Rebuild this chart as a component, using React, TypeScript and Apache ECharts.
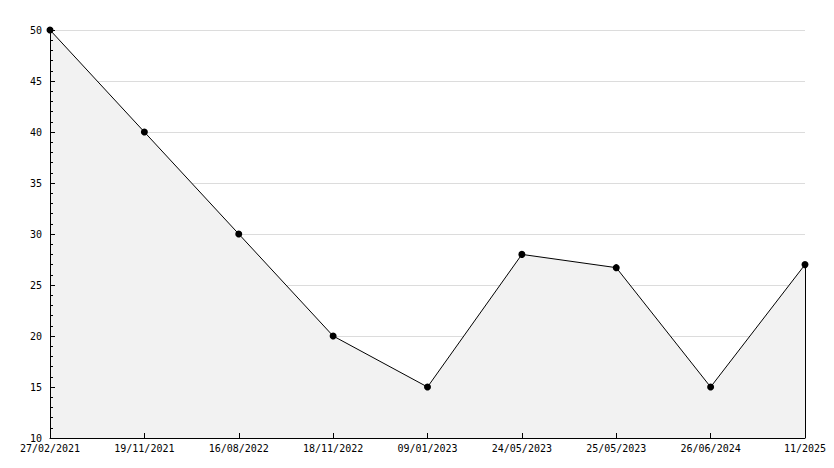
import React, { useEffect, useRef } from "react";
import * as echarts from "echarts";

const categories = [
  "27/02/2021",
  "19/11/2021",
  "16/08/2022",
  "18/11/2022",
  "09/01/2023",
  "24/05/2023",
  "25/05/2023",
  "26/06/2024",
  "11/2025",
];
const values = [50, 40, 30, 20, 15, 28, 26.7, 15, 27];
const yMin = 10;
const yMax = 50;
const yStep = 5;

export default function App() {
  const ref = useRef<HTMLDivElement>(null);
  useEffect(() => {
    document.body.style.margin = "0";
    const chart = echarts.init(ref.current!, null, { renderer: "svg" });
    const font = "DejaVu Sans Mono";
    const last = categories[categories.length - 1];
    chart.setOption({
      animation: false,
      backgroundColor: "#ffffff",
      grid: { left: 50, right: 29, top: 30, bottom: 30, containLabel: false },
      xAxis: {
        type: "category",
        data: categories,
        boundaryGap: false,
        axisLine: { lineStyle: { color: "#000", width: 1 } },
        axisTick: { inside: true, length: 5, lineStyle: { color: "#000" } },
        axisLabel: {
          color: "#000",
          fontFamily: font,
          fontSize: 10,
          margin: 5,
          interval: 0,
        },
        splitLine: { show: false },
        z: 5,
      },
      yAxis: [
        {
          type: "value",
          min: yMin,
          max: yMax,
          interval: yStep,
          axisLine: { show: false },
          axisTick: { show: false },
          axisLabel: { show: false },
          splitLine: { show: true, lineStyle: { color: "#dcdcdc", width: 1 } },
          z: 0,
        },
        {
          type: "value",
          position: "left",
          min: yMin,
          max: yMax,
          interval: yStep,
          axisLine: { show: true, lineStyle: { color: "#000", width: 1 } },
          axisTick: { show: true, inside: true, length: 5, lineStyle: { color: "#000" } },
          minorTick: { show: true, splitNumber: 5, length: 3, lineStyle: { color: "#000" } },
          axisLabel: { color: "#000", fontFamily: font, fontSize: 10, margin: 8 },
          splitLine: { show: false },
          z: 5,
        },
      ],
      series: [
        {
          type: "line",
          yAxisIndex: 0,
          data: values,
          symbol: "circle",
          symbolSize: 7,
          z: 3,
          itemStyle: { color: "#000" },
          lineStyle: { color: "#000", width: 1 },
          areaStyle: { color: "#f2f2f2", opacity: 1, origin: "start" },
          markLine: {
            silent: true,
            symbol: "none",
            label: { show: false },
            lineStyle: { color: "#000", width: 1, type: "solid" },
            data: [
              [
                { coord: [last, values[values.length - 1]] },
                { coord: [last, yMin] },
              ],
            ],
          },
        },
      ],
    });
    return () => chart.dispose();
  }, []);
  return <div ref={ref} style={{ width: 834, height: 468 }} />;
}
